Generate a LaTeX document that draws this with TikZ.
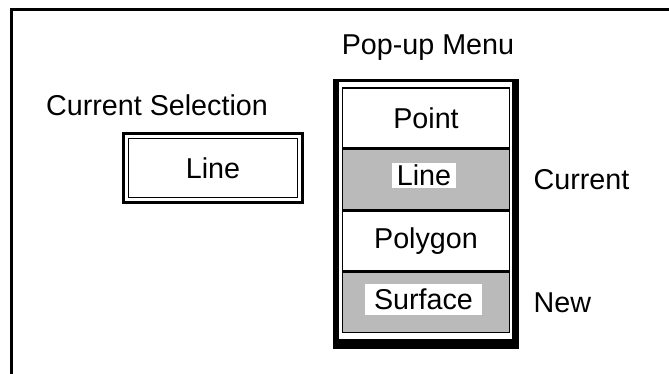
\documentclass[tikz,border=0pt]{standalone}
\usepackage{fontspec}
\setmainfont{Liberation Sans}
\usetikzlibrary{positioning,fit}

\begin{document}
\begin{tikzpicture}[x=0.03cm, y=-0.03cm,
    every node/.style={font=\fontsize{24.5}{29}\selectfont},
    item/.style={draw, line width=0.045cm, minimum width=5cm, minimum height=1.8cm, inner sep=0pt},
    stipple/.style={fill=black!27},
    tag/.style={fill=white, inner ysep=0.06cm, text height=17.6pt, text depth=0pt},
    side/.style={inner sep=0pt}]

    \useasboundingbox (0,0) rectangle (669,374);
    \draw[line width=0.09cm] (11,374) -- (11,9.5) -- (669,9.5);

    \node (title) at (428,48) {Pop-up Menu};
    \node (seltitle) at (157,105) {Current Selection};

    % current selection box
    \node[draw, line width=0.09cm, minimum width=5.37cm, minimum height=2.07cm] (sel) at (213,168) {Line};
    \draw[line width=0.03cm] ([shift={(7,6.5)}]sel.north west) rectangle ([shift={(-7,-6.5)}]sel.south east);

    % the menu
    \node[item] (point) at (426,118) {Point};
    \node[item, stipple, below=0pt of point] (line) {};
    \node[tag, inner xsep=0.15cm] (linetag) at ([shift={(-2,-4)}]line.center) {Line};
    \node[item, below=0pt of line] (polygon) {Polygon};
    \node[item, stipple, below=0pt of polygon] (surface) {};
    \node[tag, inner xsep=0.27cm, inner ysep=0.165cm] (surftag) at ([shift={(-2.5,-3)}]surface.center) {Surface};

    \node[fit=(point)(surface), inner sep=0.21cm, draw, line width=0.09cm] (menu) {};
    \fill (menu.north west) rectangle ([xshift=5]menu.south west);
    \fill ([xshift=-6]menu.north east) rectangle (menu.south east);
    \fill ([yshift=-6]menu.south west) rectangle (menu.south east);

    \node[side, right=0.7cm of line] (cur) {Current};
    \node[side, right=0.7cm of surface] (new) {New};

\end{tikzpicture}
\end{document}
